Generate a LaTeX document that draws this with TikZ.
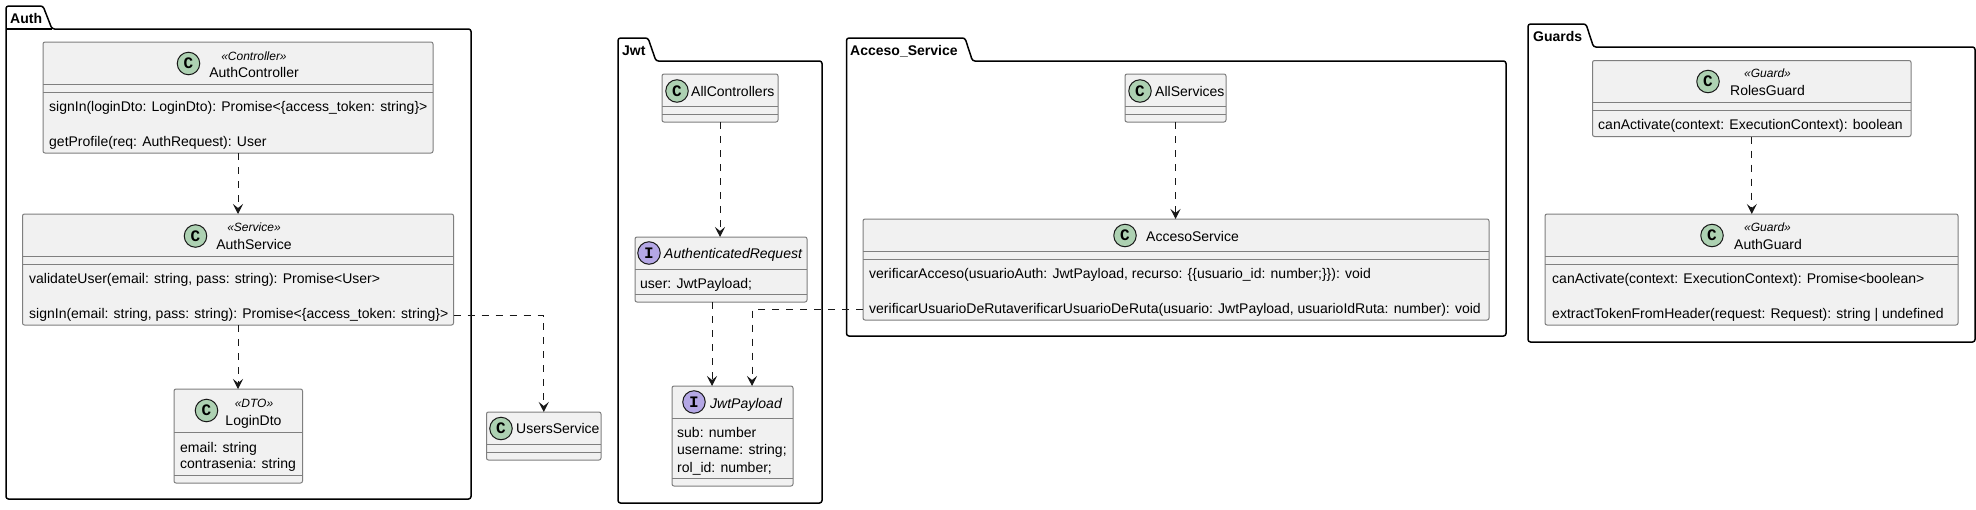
\documentclass[tikz,border=0pt]{standalone}
\usepackage{fontspec}
\setmainfont{Liberation Sans}
\newfontfamily\glyphfont{Liberation Mono}
\usetikzlibrary{arrows.meta}
\definecolor{umlfill}{HTML}{F1F1F1}
\definecolor{umlline}{HTML}{7F7F7F}
\definecolor{umlink}{HTML}{181818}
\definecolor{circC}{HTML}{ADD1B2}
\definecolor{circI}{HTML}{B4A7E5}
\tikzset{
  x=1pt,y=-1pt,
  boxnode/.style={draw=umlline,fill=umlfill,line width=1pt,rounded corners=2pt,inner sep=0pt,outer sep=0pt},
  sepline/.style={draw=umlline,line width=1pt},
  pkgline/.style={draw=black,line width=1.5pt,rounded corners=2.5pt,fill=white},
  pkglabel/.style={anchor=base west,inner sep=0pt,font=\fontsize{14}{16}\selectfont\bfseries},
  member/.style={anchor=base west,inner sep=0pt,font=\fontsize{14}{16}\selectfont,text=black},
  namecentre/.style={anchor=base,inner sep=0pt,font=\fontsize{14}{16}\selectfont,text=black},
  stereo/.style={anchor=base,inner sep=0pt,font=\fontsize{12}{14}\selectfont\itshape,text=black},
  badge/.style={circle,draw=umlink,line width=1pt,minimum size=22.5pt,inner sep=0pt,font=\fontsize{16}{16}\glyphfont\bfseries,text=black},
  dep/.style={draw=umlink,line width=1pt,dash pattern=on 7pt off 7pt,-{Stealth[length=10pt,width=10pt,inset=4pt,sep=0pt]}},
}
\newcommand{\umlbox}[5]{%
  \node[boxnode,minimum width={(#4-#2)*1pt},minimum height={(#5-#3)*1pt}] (#1) at ({(#2+#4)/2},{(#3+#5)/2}) {};}
\newcommand{\sep}[2]{\draw[sepline] (#1.west |- 0,#2) -- (#1.east |- 0,#2);}
\begin{document}
\begin{tikzpicture}
\useasboundingbox (0,0) rectangle (1976,509);
% packages
\draw[pkgline] (6,29) -- (6,6) -- (43,6) -- (52,29) -- (471,29) -- (471,499) -- (6,499) -- cycle;
\draw[pkgline,fill=none] (6,29) -- (52,29);
\node[pkglabel] (pAuth) at (10,23) {Auth};
\draw[pkgline] (618,61) -- (618,38) -- (648,38) -- (656,61) -- (822,61) -- (822,503) -- (618,503) -- cycle;
\node[pkglabel] (pJwt) at (622,55) {Jwt};
\draw[pkgline] (846.5,61) -- (846.5,38) -- (965,38) -- (972.5,61) -- (1506,61) -- (1506,336) -- (846.5,336) -- cycle;
\node[pkglabel] (pAcceso) at (850,55) {Acceso\_Service};
\draw[pkgline] (1528,47) -- (1528,24) -- (1586,24) -- (1593.5,47) -- (1975,47) -- (1975,342) -- (1528,342) -- cycle;
\node[pkglabel] (pGuards) at (1533,41) {Guards};
% AuthController
\umlbox{AuthController}{43}{42}{433}{153}
\sep{AuthController}{84}\sep{AuthController}{92}
\node[badge,fill=circC] (bAC) at (188.5,63.5) {C};
\node[stereo] (sAC) at (254,60) {«Controller»};
\node[namecentre] (nAC) at (254,77) {AuthController};
\node[member] (mAC1) at (49,111) {signIn(loginDto: LoginDto): Promise<\{access\_token: string\}>};
\node[member] (mAC2) at (49,146) {getProfile(req: AuthRequest): User};
% AuthService
\umlbox{AuthService}{22.5}{214}{453.5}{325}
\sep{AuthService}{256}\sep{AuthService}{264}
\node[badge,fill=circC] (bAS) at (195.5,236) {C};
\node[stereo] (sAS) at (254,231.5) {«Service»};
\node[namecentre] (nAS) at (254,249) {AuthService};
\node[member] (mAS1) at (29,283) {validateUser(email: string, pass: string): Promise<User>};
\node[member] (mAS2) at (29,318) {signIn(email: string, pass: string): Promise<\{access\_token: string\}>};
% LoginDto
\umlbox{LoginDto}{174}{389}{302.5}{483}
\sep{LoginDto}{432}\sep{LoginDto}{475}
\node[badge,fill=circC] (bLD) at (206.5,410.5) {C};
\node[stereo] (sLD) at (254,407) {«DTO»};
\node[namecentre] (nLD) at (253.5,425) {LoginDto};
\node[member] (mLD1) at (180,452) {email: string};
\node[member] (mLD2) at (180,468) {contrasenia: string};
% UsersService
\umlbox{UsersService}{486.5}{412}{601}{460}
\sep{UsersService}{444}\sep{UsersService}{452}
\node[badge,fill=circC] (bUS) at (501,428.5) {C};
\node[member] (nUS) at (516,433.5) {UsersService};
% AllControllers
\umlbox{AllControllers}{662}{74}{778}{122}
\sep{AllControllers}{106}\sep{AllControllers}{114}
\node[badge,fill=circC] (bAll) at (677,91) {C};
\node[member] (nAll) at (691,96) {AllControllers};
% AuthenticatedRequest
\umlbox{AuthenticatedRequest}{635}{237}{807}{302}
\sep{AuthenticatedRequest}{269}\sep{AuthenticatedRequest}{294}
\node[badge,fill=circI] (bAR) at (649,253) {I};
\node[member,font=\fontsize{14}{16}\selectfont\itshape] (nAR) at (664,258) {AuthenticatedRequest};
\node[member] (mAR) at (640,288) {user: JwtPayload;};
% JwtPayload
\umlbox{JwtPayload}{672}{386}{793}{486}
\sep{JwtPayload}{418}\sep{JwtPayload}{478}
\node[badge,fill=circI] (bJP) at (694,402) {I};
\node[member,font=\fontsize{14}{16}\selectfont\itshape] (nJP) at (710,408) {JwtPayload};
\node[member] (mJP1) at (677,437) {sub: number};
\node[member] (mJP2) at (677,454) {username: string;};
\node[member] (mJP3) at (677,472) {rol\_id: number;};
% AllServices
\umlbox{AllServices}{1125}{74}{1226}{122}
\sep{AllServices}{106}\sep{AllServices}{114}
\node[badge,fill=circC] (bSv) at (1140,91) {C};
\node[member] (nSv) at (1155,96) {AllServices};
% AccesoService
\umlbox{AccesoService}{863}{219}{1489}{320}
\sep{AccesoService}{251}\sep{AccesoService}{259}
\node[badge,fill=circC] (bAcc) at (1125,235.5) {C};
\node[member] (nAcc) at (1146,241) {AccesoService};
\node[member] (mAcc1) at (869,278) {verificarAcceso(usuarioAuth: JwtPayload, recurso: \{\{usuario\_id: number;\}\}): void};
\node[member] (mAcc2) at (869,313) {verificarUsuarioDeRutaverificarUsuarioDeRuta(usuario: JwtPayload, usuarioIdRuta: number): void};
% RolesGuard
\umlbox{RolesGuard}{1592.5}{60.5}{1911}{136.5}
\sep{RolesGuard}{102.5}\sep{RolesGuard}{110.5}
\node[badge,fill=circC] (bRG) at (1708,81.5) {C};
\node[stereo] (sRG) at (1767.5,77) {«Guard»};
\node[namecentre] (nRG) at (1767.5,95) {RolesGuard};
\node[member] (mRG) at (1598,129) {canActivate(context: ExecutionContext): boolean};
% AuthGuard
\umlbox{AuthGuard}{1545}{214}{1958}{325}
\sep{AuthGuard}{256}\sep{AuthGuard}{264}
\node[badge,fill=circC] (bAG) at (1712,235.5) {C};
\node[stereo] (sAG) at (1767.5,231) {«Guard»};
\node[namecentre] (nAG) at (1768,249) {AuthGuard};
\node[member] (mAG1) at (1552,283) {canActivate(context: ExecutionContext): Promise<boolean>};
\node[member] (mAG2) at (1552,318) {extractTokenFromHeader(request: Request): string | undefined};
% connector guides
\coordinate (usersY) at (0,315.5);
\coordinate (accY) at (0,309.5);
\coordinate (arX) at (712,0);
\coordinate (accX) at (752,0);
% connectors
\draw[dep] (AuthController.south) -- (AuthService.north);
\draw[dep] (AuthService.south) -- (LoginDto.north -| AuthService.south);
\draw[dep] (AuthService.east |- usersY) -- (UsersService.north |- usersY) -- (UsersService.north);
\draw[dep] (AllControllers.south) -- (AllControllers.south |- AuthenticatedRequest.north);
\draw[dep] (arX |- AuthenticatedRequest.south) -- (arX |- JwtPayload.north);
\draw[dep] (AccesoService.west |- accY) -- (accX |- accY) -- (accX |- JwtPayload.north);
\draw[dep] (AllServices.south) -- (AllServices.south |- AccesoService.north);
\draw[dep] (RolesGuard.south) -- (RolesGuard.south |- AuthGuard.north);
\end{tikzpicture}
\end{document}
